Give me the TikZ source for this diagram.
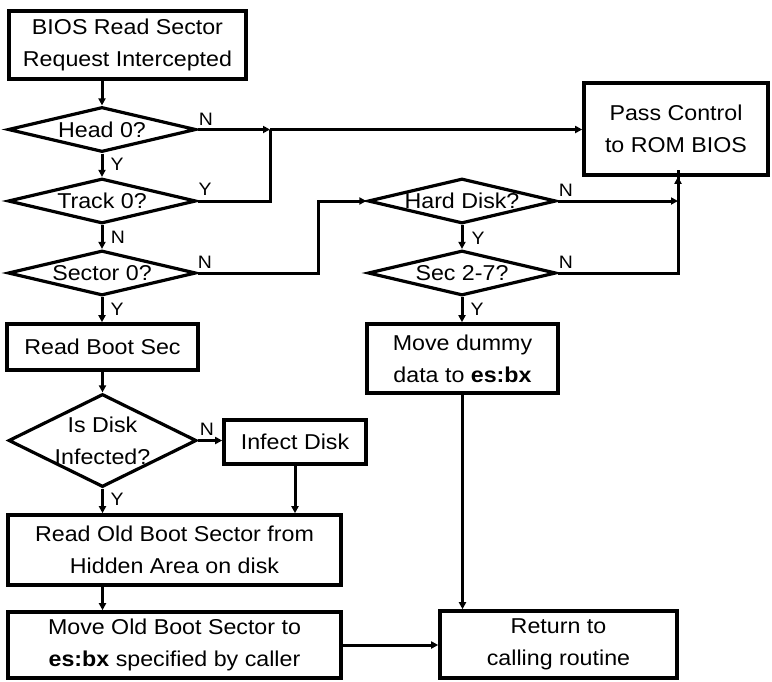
\documentclass[tikz,border=0pt]{standalone}
\usepackage{fontspec}
\setmainfont[FakeStretch=1.08]{Liberation Sans}
\usetikzlibrary{shapes.geometric,arrows.meta}
\begin{document}
\begin{tikzpicture}[x=1pt,y=-1pt,
  txt/.style={font=\fontsize{21.5}{32}\selectfont, align=center},
  box/.style={draw, line width=3.6pt, inner sep=0pt, txt},
  dia/.style={draw, diamond, line width=3.2pt, inner sep=0pt},
  dlab/.style={txt, inner sep=0pt},
  yn/.style={font=\fontsize{18}{20}\selectfont, inner sep=0pt},
  conn/.style={line width=3pt},
  arr/.style={conn, -{Triangle[length=7pt,width=7pt]}}
]
\useasboundingbox (0,0) rectangle (772,681);

% boxes
\node[box, minimum width=237, minimum height=68] (bios) at (127.5,45) {BIOS Read Sector\\Request Intercepted};
\node[box, minimum width=184, minimum height=92] (pass) at (676,129) {Pass Control\\to ROM BIOS};
\node[box, minimum width=191, minimum height=46] (rbs) at (102.5,347) {Read Boot Sec};
\node[box, minimum width=142, minimum height=44] (inf) at (295,442) {Infect Disk};
\node[box, minimum width=333, minimum height=70] (ro) at (174.5,550) {Read Old Boot Sector from\\Hidden Area on disk};
\node[box, minimum width=333, minimum height=66] (mo) at (174.5,645) {Move Old Boot Sector to\\\textbf{es:bx} specified by caller};
\node[box, minimum width=191, minimum height=69] (dum) at (462.5,358.5) {Move dummy\\data to \textbf{es:bx}};
\node[box, minimum width=237, minimum height=67] (ret) at (558.5,644.5) {Return to\\calling routine};

% diamonds
\node[dia, minimum width=188, minimum height=45, label={[dlab]center:Head 0?}] (h0) at (102,129.5) {};
\node[dia, minimum width=188, minimum height=45, label={[dlab]center:Track 0?}] (t0) at (102,201) {};
\node[dia, minimum width=188, minimum height=45, label={[dlab]center:Sector 0?}] (s0) at (102,273) {};
\node[dia, minimum width=188, minimum height=93, label={[dlab]center:Is Disk\\Infected?}] (isd) at (102.5,440.5) {};
\node[dia, minimum width=188, minimum height=45, label={[dlab]center:Hard Disk?}] (hd) at (462,201) {};
\node[dia, minimum width=188, minimum height=45, label={[dlab]center:Sec 2-7?}] (s27) at (462,273) {};

% junctions
\coordinate (j1) at (270,129.5);
\coordinate (j2) at (318,0);
\coordinate (j3) at (678,201);

% connectors left column
\draw[arr] (bios.south -| h0) -- (h0.north);
\draw[arr] (h0.south) -- (t0.north);
\draw[arr] (t0.south) -- (s0.north);
\draw[arr] (s0.south) -- (rbs.north -| s0);
\draw[arr] (rbs.south -| isd) -- (isd.north);
\draw[arr] (isd.south) -- (ro.north -| isd);
\draw[arr] (isd.east) -- (inf.west |- isd.east);
\draw[arr] (inf.south) -- (inf.south |- ro.north);
\draw[arr] (ro.south -| isd) -- (mo.north -| isd);
\draw[arr] (mo.east) -- (ret.west |- mo.east);

% to Pass Control
\draw[arr] (h0.east) -- (j1);
\draw[arr] (j1) -- (pass.west |- j1);
\draw[conn] (t0.east) -| (j1);

% to right column
\draw[arr] (s0.east) -- (s0.east -| j2) -- (j2 |- hd.west) -- (hd.west);
\draw[arr] (hd.east) -- (j3);
\draw[arr] (s27.east) -| (j3 |- pass.south) -- (j3 |- pass.south);
\draw[arr] (hd.south) -- (s27.north);
\draw[arr] (s27.south) -- (dum.north -| s27);
\draw[arr] (dum.south) -- (dum.south |- ret.north);

% Y/N labels
\node[yn] (l1) at (206,119) {N};
\node[yn] (l2) at (117,164) {Y};
\node[yn] (l3) at (205,189) {Y};
\node[yn] (l4) at (118,237) {N};
\node[yn] (l5) at (205,262) {N};
\node[yn] (l6) at (117,309) {Y};
\node[yn] (l7) at (566,190) {N};
\node[yn] (l8) at (478,238) {Y};
\node[yn] (l9) at (566,262) {N};
\node[yn] (l10) at (477,309) {Y};
\node[yn] (l11) at (207,429) {N};
\node[yn] (l12) at (117,499) {Y};
\end{tikzpicture}
\end{document}
